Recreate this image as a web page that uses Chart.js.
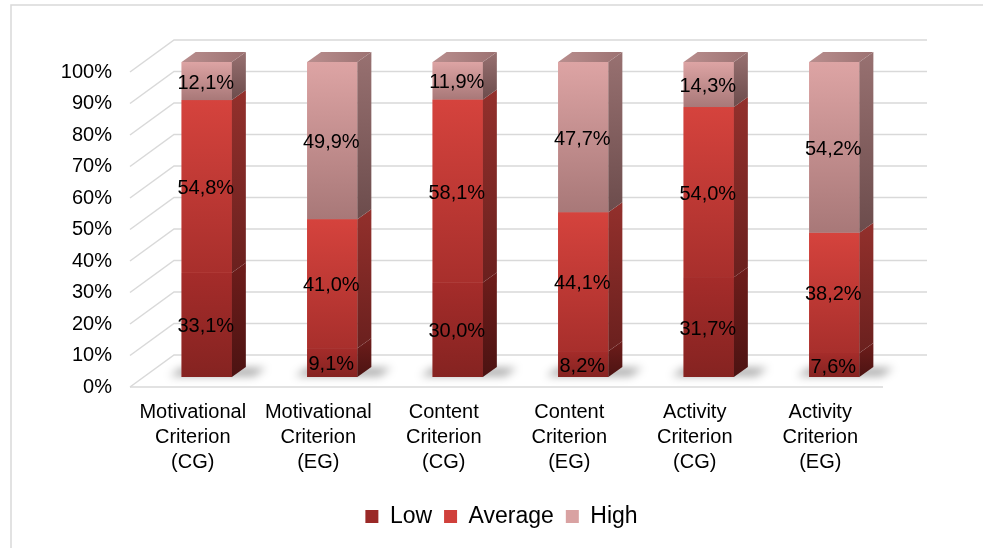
<!DOCTYPE html>
<html>
<head>
<meta charset="utf-8">
<script src="https://cdn.jsdelivr.net/npm/chart.js@4.4.1/dist/chart.umd.min.js"></script>
<style>
  html, body { margin: 0; padding: 0; background: #fff; }
  #wrap { width: 983px; height: 548px; }
</style>
</head>
<body>
<div id="wrap"><canvas id="chart" width="983" height="548"></canvas></div>
<script>
// Data
const categories = [
  ['Motivational', 'Criterion', '(CG)'],
  ['Motivational', 'Criterion', '(EG)'],
  ['Content', 'Criterion', '(CG)'],
  ['Content', 'Criterion', '(EG)'],
  ['Activity', 'Criterion', '(CG)'],
  ['Activity', 'Criterion', '(EG)'],
];
const lowValues = [33.1, 9.1, 30.0, 8.2, 31.7, 7.6];
const averageValues = [54.8, 41.0, 58.1, 44.1, 54.0, 38.2];
const highValues = [12.1, 49.9, 11.9, 47.7, 14.3, 54.2];
const yTicks = [0, 10, 20, 30, 40, 50, 60, 70, 80, 90, 100];

// 3D look
const WALL_DX = 44, WALL_DY = 32;   // depth of the back wall
const BAR_DX = 14, BAR_DY = 10;     // bar offset into the room and bar depth
const LEGEND_SHIFT = 60;            // legend sits centred under the whole frame
const FONT = 'Liberation Sans, Arial, sans-serif';

const faceColors = [
  { front: ['#a52c2a', '#852321'], side: ['#6e1d1b', '#4c1312'] },
  { front: ['#d5433d', '#a82f2c'], side: ['#93302c', '#6a201e'] },
  { front: ['#dda4a4', '#a87878'], side: ['#987171', '#6c4c4c'] },
];

function fmt(v) {
  return v.toFixed(1).replace('.', ',') + '%';
}

function vGrad(ctx, y0, y1, c0, c1) {
  const g = ctx.createLinearGradient(0, y0, 0, y1);
  g.addColorStop(0, c0);
  g.addColorStop(1, c1);
  return g;
}

const framePlugin = {
  id: 'frame',
  afterLayout(chart) {
    chart.legend.left += LEGEND_SHIFT;
    chart.legend.right += LEGEND_SHIFT;
  },
  beforeDraw(chart) {
    const ctx = chart.ctx;
    ctx.save();
    ctx.fillStyle = '#fff';
    ctx.fillRect(0, 0, chart.width, chart.height);
    ctx.strokeStyle = '#d9d9d9';
    ctx.lineWidth = 1.5;
    ctx.strokeRect(11, 5, 1100, 700);
    ctx.restore();
  },
};

const bars3dPlugin = {
  id: 'bars3d',
  beforeDatasetsDraw(chart) {
    const ctx = chart.ctx;
    const { left, right, bottom } = chart.chartArea;
    const y = chart.scales.y;

    // back wall, left wall diagonals and floor edge
    ctx.save();
    ctx.strokeStyle = '#d9d9d9';
    ctx.lineWidth = 1.5;
    yTicks.forEach(v => {
      const py = y.getPixelForValue(v);
      ctx.beginPath();
      ctx.moveTo(left, py);
      ctx.lineTo(left + WALL_DX, py - WALL_DY);
      ctx.lineTo(right + WALL_DX, py - WALL_DY);
      ctx.stroke();
    });
    ctx.beginPath();
    ctx.moveTo(left, bottom);
    ctx.lineTo(right, bottom);
    ctx.stroke();
    ctx.restore();

    ctx.save();
    ctx.translate(BAR_DX, -BAR_DY);

    // soft floor shadows
    const meta = chart.getDatasetMeta(0);
    meta.data.forEach(el => {
      const { x, base, width } = el.getProps(['x', 'base', 'width'], true);
      const xl = x - width / 2, xr = x + width / 2;
      ctx.save();
      ctx.filter = 'blur(4px)';
      ctx.fillStyle = 'rgba(0,0,0,0.35)';
      ctx.beginPath();
      ctx.moveTo(xl - 12, base - 1);
      ctx.lineTo(xr + 22, base - 1);
      ctx.lineTo(xr + 34, base - 9);
      ctx.lineTo(xl, base - 9);
      ctx.closePath();
      ctx.fill();
      ctx.restore();
    });
  },
  afterDatasetsDraw(chart) {
    const ctx = chart.ctx;
    const last = chart.data.datasets.length - 1;

    chart.data.datasets.forEach((ds, di) => {
      const meta = chart.getDatasetMeta(di);
      const c = faceColors[di];
      meta.data.forEach(el => {
        const { x, y, base, width } = el.getProps(['x', 'y', 'base', 'width'], true);
        const xl = x - width / 2, xr = x + width / 2;
        const top = Math.min(y, base), bot = Math.max(y, base);

        // front face
        ctx.fillStyle = vGrad(ctx, top, bot, c.front[0], c.front[1]);
        ctx.fillRect(xl, top, xr - xl, bot - top);

        // right side face
        ctx.fillStyle = vGrad(ctx, top - BAR_DY, bot, c.side[0], c.side[1]);
        ctx.beginPath();
        ctx.moveTo(xr, top);
        ctx.lineTo(xr + BAR_DX, top - BAR_DY);
        ctx.lineTo(xr + BAR_DX, bot - BAR_DY);
        ctx.lineTo(xr, bot);
        ctx.closePath();
        ctx.fill();

        // top face on the highest segment
        if (di === last) {
          const g = ctx.createLinearGradient(xl, 0, xr + BAR_DX, 0);
          g.addColorStop(0, '#b98e8e');
          g.addColorStop(1, '#9c7272');
          ctx.fillStyle = g;
          ctx.beginPath();
          ctx.moveTo(xl, top);
          ctx.lineTo(xl + BAR_DX, top - BAR_DY);
          ctx.lineTo(xr + BAR_DX, top - BAR_DY);
          ctx.lineTo(xr, top);
          ctx.closePath();
          ctx.fill();
        }
      });
    });

    // value labels
    ctx.fillStyle = '#000';
    ctx.font = '20px ' + FONT;
    ctx.textAlign = 'center';
    ctx.textBaseline = 'middle';
    chart.data.datasets.forEach((ds, di) => {
      chart.getDatasetMeta(di).data.forEach((el, i) => {
        const { x, y, base } = el.getProps(['x', 'y', 'base'], true);
        ctx.fillText(fmt(ds.data[i]), x - 1, (y + base) / 2 + 2);
      });
    });

    ctx.restore();
  },
};

const chart = new Chart(document.getElementById('chart'), {
  type: 'bar',
  data: {
    labels: categories,
    datasets: [
      { label: 'Low', data: lowValues, backgroundColor: '#9a2927' },
      { label: 'Average', data: averageValues, backgroundColor: '#d0403b' },
      { label: 'High', data: highValues, backgroundColor: '#d9a2a2' },
    ],
  },
  options: {
    responsive: false,
    devicePixelRatio: 1,
    animation: false,
    barPercentage: 0.8,
    categoryPercentage: 0.5,
    layout: { padding: { top: 72, right: 100, bottom: 10, left: 0 } },
    plugins: {
      legend: {
        position: 'bottom',
        labels: {
          font: { family: FONT, size: 23 },
          color: '#000',
          boxWidth: 13,
          boxHeight: 13,
          padding: 12,
        },
      },
      tooltip: { enabled: false },
    },
    scales: {
      x: {
        stacked: true,
        grid: { display: false },
        border: { display: false },
        ticks: {
          font: { family: FONT, size: 20, lineHeight: 1.25 },
          color: '#000',
          padding: 5,
          maxRotation: 0,
          autoSkip: false,
        },
        afterFit(s) { s.height = 106; },
      },
      y: {
        stacked: true,
        min: 0,
        max: 100,
        grid: { display: false },
        border: { display: false },
        ticks: {
          stepSize: 10,
          font: { family: FONT, size: 20 },
          color: '#000',
          padding: 10,
          callback: v => v + '%',
        },
        afterFit(s) { s.width = 130; },
      },
    },
  },
  plugins: [framePlugin, bars3dPlugin],
});
</script>
</body>
</html>
